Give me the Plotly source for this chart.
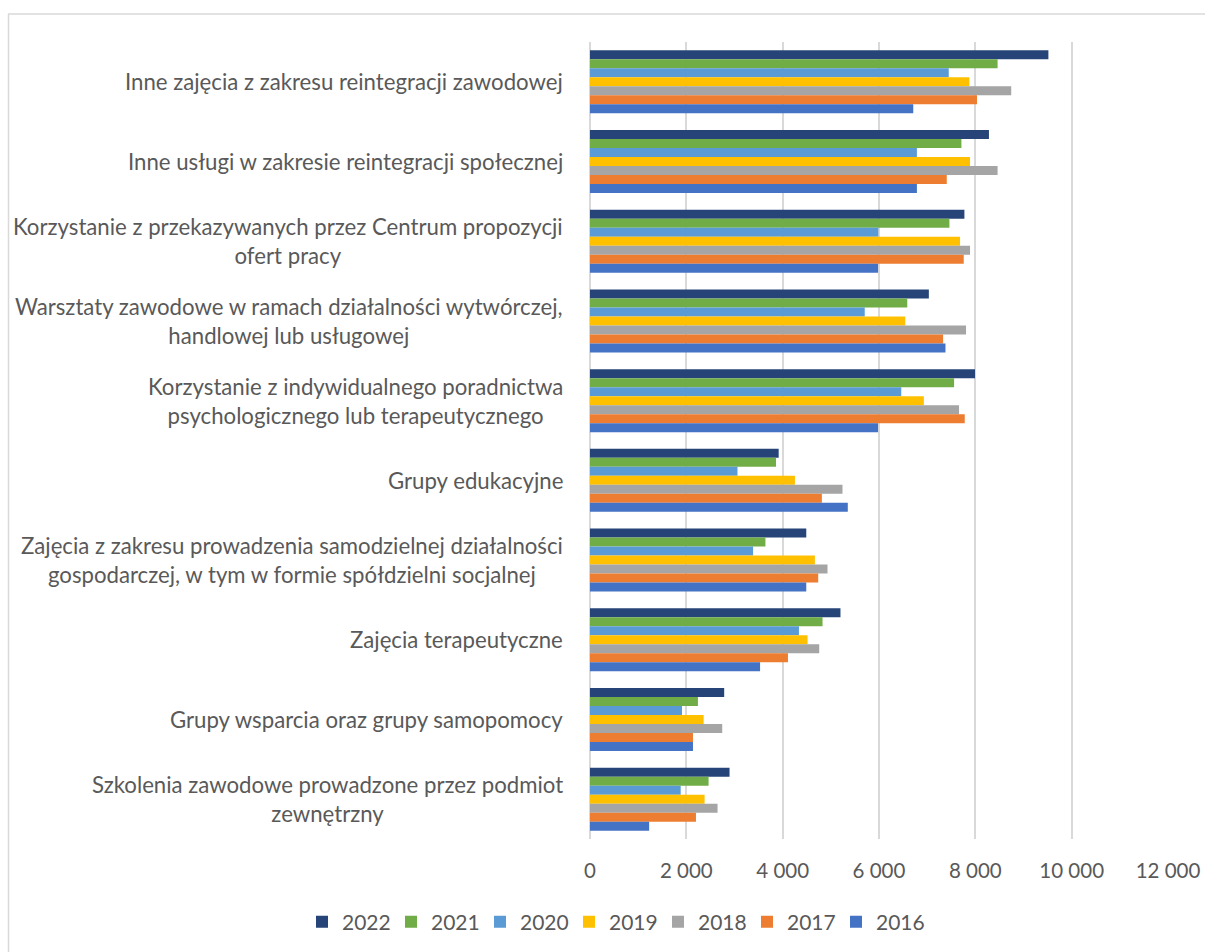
import plotly.graph_objects as go

categories = [
    "Inne zajęcia z zakresu reintegracji zawodowej",
    "Inne usługi w zakresie reintegracji społecznej",
    "Korzystanie z przekazywanych przez Centrum propozycji<br>ofert pracy",
    "Warsztaty zawodowe w ramach działalności wytwórczej,<br>handlowej lub usługowej",
    "Korzystanie z indywidualnego poradnictwa<br>psychologicznego lub terapeutycznego",
    "Grupy edukacyjne",
    "Zajęcia z zakresu prowadzenia samodzielnej działalności<br>gospodarczej, w tym w formie spółdzielni socjalnej",
    "Zajęcia terapeutyczne",
    "Grupy wsparcia oraz grupy samopomocy",
    "Szkolenia zawodowe prowadzone przez podmiot<br>zewnętrzny",
]

v2022 = [9517, 8283, 7773, 7035, 7993, 3917, 4490, 5200, 2786, 2897]
v2021 = [8462, 7711, 7462, 6587, 7559, 3862, 3642, 4828, 2241, 2462]
v2020 = [7448, 6787, 5986, 5704, 6462, 3062, 3386, 4338, 1910, 1883]
v2019 = [7876, 7890, 7683, 6545, 6931, 4255, 4669, 4517, 2359, 2379]
v2018 = [8745, 8462, 7890, 7807, 7662, 5242, 4931, 4759, 2745, 2648]
v2017 = [8035, 7407, 7759, 7331, 7780, 4814, 4738, 4110, 2138, 2200]
v2016 = [6711, 6787, 5980, 7380, 5980, 5352, 4490, 3531, 2138, 1228]

series = [
    ("2022", v2022, "#264478"),
    ("2021", v2021, "#70AD47"),
    ("2020", v2020, "#5B9BD5"),
    ("2019", v2019, "#FFC000"),
    ("2018", v2018, "#A5A5A5"),
    ("2017", v2017, "#ED7D31"),
    ("2016", v2016, "#4472C4"),
]

x_ticks = [0, 2000, 4000, 6000, 8000, 10000, 12000]

FONT = "Lato"
TXT = "#595959"

fig = go.Figure()
for name, vals, col in series:
    fig.add_trace(go.Bar(
        y=categories, x=vals, name=name, orientation="h",
        marker=dict(color=col, line=dict(width=0)),
    ))

W, H = 1205, 952
L, R, T, B = 590, 1205 - 1168, 42, 952 - 839
pw = W - L - R
ph = H - T - B

annotations = []
for c in categories:
    annotations.append(dict(
        x=0, xref="paper", y=c, yref="y", xanchor="right", yanchor="middle",
        xshift=-25, text=c, align="center", showarrow=False,
        font=dict(family=FONT, size=22.2, color=TXT),
    ))

shapes = [
    dict(type="line", xref="paper", yref="paper",
         x0=(8 - L) / pw, x1=(1210 - L) / pw, y0=(H - B - 14) / ph, y1=(H - B - 14) / ph,
         line=dict(color="#d9d9d9", width=1.5)),
    dict(type="line", xref="paper", yref="paper",
         x0=(8.5 - L) / pw, x1=(8.5 - L) / pw, y0=(H - B - 14) / ph, y1=(H - B - 960) / ph,
         line=dict(color="#d9d9d9", width=1.5)),
]

fig.update_layout(
    width=W, height=H,
    margin=dict(l=L, r=R, t=T, b=B, autoexpand=False),
    paper_bgcolor="white", plot_bgcolor="white",
    barmode="group", bargap=0.21, bargroupgap=0,
    separators=", ",
    font=dict(family=FONT, size=20, color=TXT),
    xaxis=dict(
        range=[0, 12000], tickvals=x_ticks, tickformat=",d",
        showgrid=True, gridcolor="#d9d9d9", gridwidth=1.5,
        zeroline=True, zerolinecolor="#d9d9d9", zerolinewidth=1.5,
        showline=False, ticks="", ticklabelstandoff=17,
        tickfont=dict(family=FONT, size=20.5, color=TXT),
    ),
    yaxis=dict(
        autorange="reversed", showticklabels=False, showgrid=False,
        zeroline=False, showline=False, ticks="",
    ),
    legend=dict(
        orientation="h",
        x=(302 - L) / pw, xanchor="left",
        y=(H - B - 922) / ph, yanchor="middle",
        traceorder="normal", entrywidth=44, entrywidthmode="pixels",
        itemwidth=30, font=dict(family=FONT, size=21, color=TXT),
    ),
    annotations=annotations,
    shapes=shapes,
)

fig.write_html(
    "out.html",
    config={"displayModeBar": False},
    post_script="document.body.style.margin='0';document.body.style.overflow='hidden';",
)
